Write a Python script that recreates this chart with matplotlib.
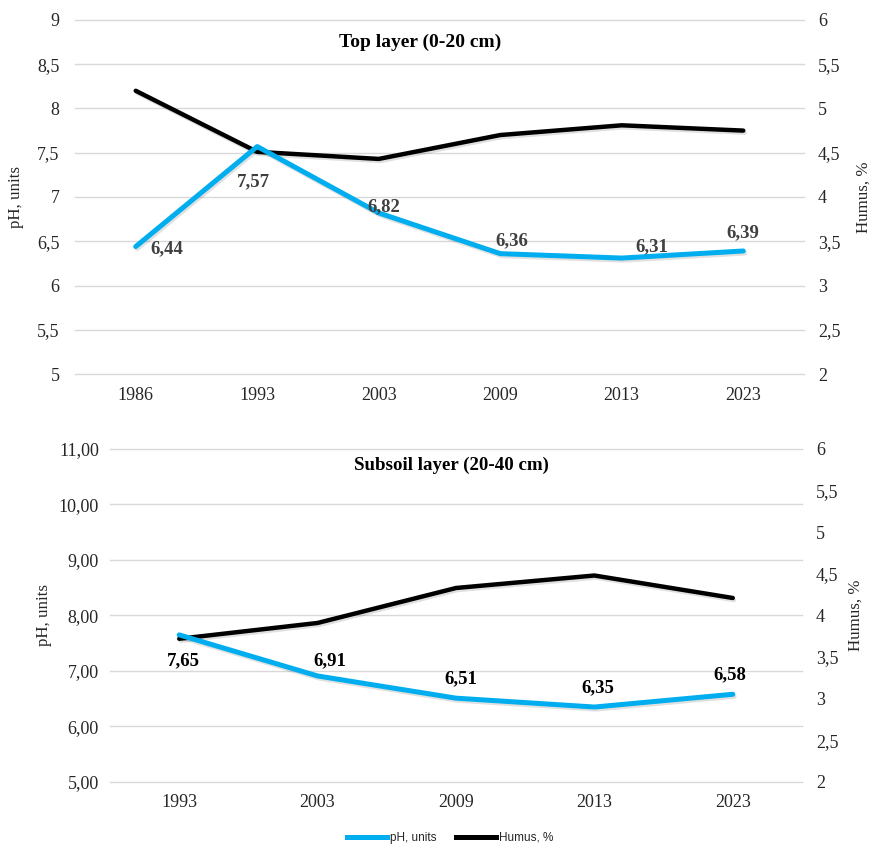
import matplotlib
matplotlib.use("Agg")
import matplotlib.pyplot as plt
import matplotlib.patheffects as pe
from matplotlib.lines import Line2D
import numpy as np

# --- data -------------------------------------------------------------
top_years = ["1986", "1993", "2003", "2009", "2013", "2023"]
top_ph = [6.44, 7.57, 6.82, 6.36, 6.31, 6.39]
top_humus = [5.20, 4.51, 4.43, 4.70, 4.81, 4.75]

sub_years = ["1993", "2003", "2009", "2013", "2023"]
sub_ph = [7.65, 6.91, 6.51, 6.35, 6.58]
sub_humus = [3.72, 3.91, 4.33, 4.48, 4.21]

# label offsets (pixels) for the pH data labels
top_offsets = [(31, -2), (-4, -35), (5, 6), (12, 13), (30, 11), (0, 18)]
sub_offsets = [(4, -26), (12, 15), (5, 19), (3, 19), (-3, 20)]

BLUE = "#00AEEF"
GRID = "#D9D9D9"
TXT = "#262626"
SERIF = "Liberation Serif"

plt.rcParams["font.family"] = SERIF

fig = plt.figure(figsize=(8.81, 8.46), dpi=100)
ax1 = fig.add_axes([0.0851, 0.5579, 0.8275, 0.4185])
ax2 = fig.add_axes([0.1249, 0.0757, 0.7854, 0.3936])

shadow = [pe.SimpleLineShadow(offset=(1, -1.5), alpha=0.12), pe.Normal()]


def comma(fmt):
    return matplotlib.ticker.FuncFormatter(lambda v, p: (fmt % v).replace(".", ","))


def panel(ax, years, ph, humus, offsets, ylim, yticks, yfmt, title, title_xy,
          lab_color, ylab_x, yrlab_x, pads, title_size):
    x = np.arange(len(years))
    axr = ax.twinx()
    for a in (ax, axr):
        for s in a.spines.values():
            s.set_visible(False)
        a.tick_params(length=0, labelsize=13, colors=TXT)
    ax.set_xlim(-0.5, len(years) - 0.5)
    ax.set_ylim(*ylim)
    ax.set_yticks(yticks)
    ax.yaxis.set_major_formatter(comma(yfmt))
    ax.set_xticks(x)
    ax.set_xticklabels(years)
    ax.tick_params(axis="x", pad=pads[0])
    ax.tick_params(axis="y", pad=pads[1])
    axr.set_ylim(2, 6)
    axr.set_yticks(np.arange(2, 6.01, 0.5))
    axr.yaxis.set_major_formatter(comma("%g"))
    axr.tick_params(axis="y", pad=pads[2])

    # gridlines follow the left (pH) ticks, drawn on the lower axis
    for t in yticks:
        axr.plot([0, 1], [t, t], transform=ax.get_yaxis_transform(),
                 color=GRID, lw=1, zorder=1, clip_on=False)

    ax.set_ylabel("pH, units", fontsize=12.2, color=TXT)
    ax.yaxis.set_label_coords(ylab_x, 0.5)
    axr.set_ylabel("Humus, %", fontsize=12.2, color=TXT)
    axr.yaxis.set_label_coords(yrlab_x, 0.5)

    axr.plot(x, humus, color="black", lw=3.2, solid_capstyle="round",
             path_effects=shadow, zorder=3)
    axr.set_zorder(ax.get_zorder() - 1)
    ax.patch.set_visible(False)
    ax.plot(x, ph, color=BLUE, lw=3.6, solid_capstyle="round",
            path_effects=shadow, zorder=3)
    for xi, v, off in zip(x, ph, offsets):
        ax.annotate(f"{v:.2f}".replace(".", ","), (xi, v),
                    xytext=off, textcoords="offset pixels", ha="center", va="center",
                    fontsize=13.5, fontweight="bold", color=lab_color, zorder=5)
    ax.text(title_xy[0], title_xy[1], title, transform=ax.transAxes, ha="center",
            va="center", fontsize=title_size, fontweight="bold", color="black")
    return axr


panel(ax1, top_years, top_ph, top_humus, top_offsets, (5, 9),
      np.arange(5, 9.01, 0.5), "%g", "Top layer (0-20 cm)", (0.473, 0.938),
      "#404040", -0.07, 1.071, (9, 11, 10), 14)
panel(ax2, sub_years, sub_ph, sub_humus, sub_offsets, (5, 11),
      np.arange(5, 11.01, 1), "%.2f", "Subsoil layer (20-40 cm)", (0.493, 0.952),
      "black", -0.084, 1.066, (9, 8, 10), 13.6)

handles = [Line2D([], [], color=BLUE, lw=3.6), Line2D([], [], color="black", lw=3.6)]
fig.legend(handles, ["pH, units", "Humus, %"], loc="lower center",
           bbox_to_anchor=(0.511, -0.010), ncol=2, frameon=False,
           prop={"family": "Liberation Sans", "size": 8.5}, handlelength=3.4,
           columnspacing=1.7, handletextpad=0.25, labelcolor=TXT)

fig.savefig("out.png", dpi=100)
